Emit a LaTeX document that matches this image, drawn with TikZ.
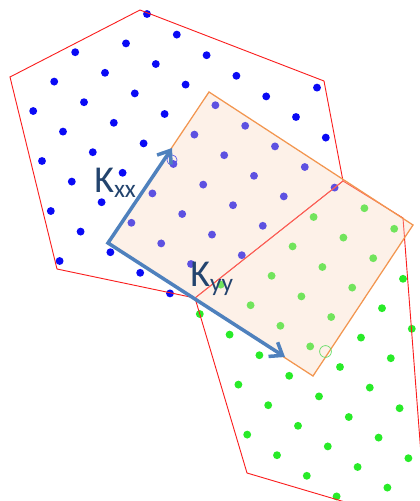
\documentclass[tikz,border=0pt]{standalone}
\usepackage{fontspec}
\newfontfamily\labelfont{Carlito}
\usetikzlibrary{arrows.meta}
\definecolor{cellRed}{RGB}{250,30,30}
\definecolor{dotBlue}{RGB}{10,10,245}
\definecolor{dotGreen}{RGB}{40,235,40}
\definecolor{boxOrange}{RGB}{242,150,80}
\definecolor{boxPeach}{RGB}{250,215,190}
\definecolor{kBlue}{RGB}{79,129,189}
\definecolor{kText}{RGB}{35,68,110}
\definecolor{markBlue}{RGB}{90,90,235}
\definecolor{markGreen}{RGB}{100,220,100}
\tikzset{
  cellborder/.style={draw=cellRed, line width=0.65pt, line join=miter},
  overlapbox/.style={draw=boxOrange, fill=boxPeach, fill opacity=0.35, line width=0.9pt},
  bluedot/.style={fill=dotBlue},
  greendot/.style={fill=dotGreen},
  karrow/.style={draw=kBlue, line width=2.5pt, line join=miter,
    {Straight Barb[length=8pt,width=12pt]}-{Straight Barb[length=8pt,width=12pt]}},
  klabel/.style={anchor=base west, inner sep=0pt, text=kText,
    font=\labelfont\fontsize{27}{27}\selectfont},
  pointmark/.style={line width=0.5pt},
}
\newcommand{\klsub}[1]{\raisebox{-4pt}{\fontsize{18}{18}\selectfont #1}}

\begin{document}
\begin{tikzpicture}[x=0.025cm, y=-0.025cm]

\useasboundingbox (0,0) rectangle (420,501);
\clip (0,0) rectangle (420,501);

%% CORNERS
\coordinate (u1) at (140,10);
\coordinate (u2) at (324,81);
\coordinate (u3) at (343,181);
\coordinate (u4) at (195,298);
\coordinate (u5) at (57,269);
\coordinate (u6) at (10,77);
\coordinate (l3) at (403,218);
\coordinate (l4) at (426,520);
\coordinate (l5) at (372,510);
\coordinate (l6) at (247,473);

\coordinate (orig) at (108,243);
\coordinate (bx) at (209,92);
\coordinate (bc) at (413,225);
\coordinate (by) at (313,376);
\coordinate (xtip) at (172,148);
\coordinate (ytip) at (285,357);

%% LATTICE POINTS (same grid, coloured by cell)
\foreach \j/\a/\b in {-1/5/5, 0/0/6, 1/0/7, 2/-1/6, 3/-1/6, 4/-1/6, 5/0/5, 6/1/5, 7/2/2}
  \foreach \i in {\a,...,\b}
    \fill[bluedot] ({147+29.8*\i-21*\j},{14+20.6*\i+29.4*\j}) circle (2.8pt);
\foreach \j/\a/\b in {1/8/9, 2/7/10, 3/7/11, 4/7/11, 5/6/12, 6/6/13, 7/8/13, 8/9/12}
  \foreach \i in {\a,...,\b}
    \fill[greendot] ({147+29.8*\i-21*\j},{14+20.6*\i+29.4*\j}) circle (2.8pt);

%% CELLS
\draw[cellborder] (u1) -- (u2) -- (u3) -- (u4) -- (u5) -- (u6) -- cycle;
\draw[cellborder] (u4) -- (u3) -- (l3) -- (l4) -- (l5) -- (l6) -- cycle;

%% OVERLAP BOX
\draw[overlapbox] (orig) -- (bx) -- (bc) -- (by) -- cycle;

%% MARKS
\draw[pointmark, draw=markBlue] (172,160) circle (3.6pt);
\draw[pointmark, draw=markGreen] (325.5,351.5) circle (4.2pt);

%% K ARROWS
\draw[karrow] (xtip) -- (orig) -- (ytip);

\node[klabel] (kxx) at (94,192) {K\klsub{xx}};
\node[klabel] (kyy) at (190,286) {K\klsub{yy}};

\end{tikzpicture}
\end{document}
